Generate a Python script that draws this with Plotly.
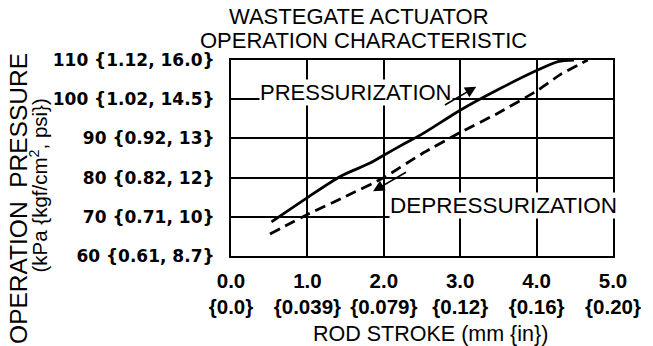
import plotly.graph_objects as go

# ---- data ----
press_x = [0.53, 1.0, 1.43, 1.82, 2.0, 2.29, 2.5, 3.0, 3.51, 4.0, 4.28, 4.49]
press_y = [68.7, 74.9, 80.3, 83.7, 85.7, 88.9, 91.1, 97.2, 102.6, 107.3, 109.6, 110.0]
depress_x = [0.51, 1.0, 1.47, 2.0, 2.5, 3.0, 3.51, 4.0, 4.32, 4.67]
depress_y = [65.6, 70.6, 74.9, 80.0, 86.1, 91.5, 96.6, 102.1, 106.4, 110.0]

x_tickvals = [0, 1, 2, 3, 4, 5]
x_ticktext = ["0.0<br>{0.0}", "1.0<br>{0.039}", "2.0<br>{0.079}",
              "3.0<br>{0.12}", "4.0<br>{0.16}", "5.0<br>{0.20}"]
y_tickvals = [60, 70, 80, 90, 100, 110]
y_ticktext = ["60 {0.61, 8.7}", "70 {0.71, 10}", "80 {0.82, 12}",
              "90 {0.92, 13}", "100 {1.02, 14.5}", "110 {1.12, 16.0}"]

W, H = 653, 346
ML, MR, MT, MB = 231, 33, 60, 90
PW, PH = W - ML - MR, H - MT - MB


def px(xpix):
    return (xpix - ML) / PW


def py(ypix):
    return 1 - (ypix - MT) / PH


REG = "Liberation Sans, Arial, sans-serif"

fig = go.Figure()
fig.add_trace(go.Scatter(x=press_x, y=press_y, mode="lines",
                         line=dict(color="black", width=2.8, shape="spline", smoothing=0.8),
                         showlegend=False, hoverinfo="skip"))
fig.add_trace(go.Scatter(x=depress_x, y=depress_y, mode="lines",
                         line=dict(color="black", width=2.8, dash="11px,6px", shape="spline", smoothing=0.5),
                         showlegend=False, hoverinfo="skip"))

annotations = [
    # title
    dict(text="WASTEGATE ACTUATOR", x=px(361.5), y=py(16.5), xref="paper", yref="paper",
         showarrow=False, xanchor="center", yanchor="middle",
         font=dict(family=REG, size=22, color="black")),
    dict(text="OPERATION CHARACTERISTIC", x=px(366), y=py(40), xref="paper", yref="paper",
         showarrow=False, xanchor="center", yanchor="middle",
         font=dict(family=REG, size=22, color="black")),
    # y axis title
    dict(text="OPERATION  PRESSURE", x=px(14), y=py(198), xref="paper", yref="paper",
         showarrow=False, xanchor="center", yanchor="middle", textangle=-90,
         font=dict(family=REG, size=24.5, color="black")),
    dict(text="(kPa {kgf/cm<sup>2</sup>, psi})", x=px(35), y=py(186), xref="paper", yref="paper",
         showarrow=False, xanchor="center", yanchor="middle", textangle=-90,
         font=dict(family=REG, size=20.5, color="black")),
    # x axis title
    dict(text="ROD STROKE (mm {in})", x=px(434), y=py(333.5), xref="paper", yref="paper",
         showarrow=False, xanchor="center", yanchor="middle",
         font=dict(family=REG, size=21.5, color="black")),
    # curve labels
    dict(text="PRESSURIZATION", x=0.37, y=101.6, xref="x", yref="y",
         showarrow=False, xanchor="left", yanchor="middle", bgcolor="white", borderpad=0,
         font=dict(family=REG, size=22, color="black")),
    dict(text="DEPRESSURIZATION", x=2.07, y=72.85, xref="x", yref="y",
         showarrow=False, xanchor="left", yanchor="middle", bgcolor="white", borderpad=0,
         font=dict(family=REG, size=22.5, color="black")),
    # arrows
    dict(text="", x=3.21, y=103.2, ax=2.78, ay=98.3, xref="x", yref="y", axref="x", ayref="y",
         showarrow=True, arrowhead=2, arrowsize=1.4, arrowwidth=1.6, arrowcolor="black"),
    dict(text="", x=1.86, y=76.5, ax=2.31, ay=81.6, xref="x", yref="y", axref="x", ayref="y",
         showarrow=True, arrowhead=2, arrowsize=1.4, arrowwidth=1.6, arrowcolor="black"),
]

fig.update_layout(
    width=W, height=H,
    margin=dict(l=ML, r=MR, t=MT, b=MB, pad=0),
    paper_bgcolor="white", plot_bgcolor="white",
    annotations=annotations,
    showlegend=False,
)
fig.update_xaxes(range=[0, 5], tickvals=x_tickvals, ticktext=x_ticktext,
                 showgrid=True, gridcolor="black", gridwidth=1.5,
                 showline=True, linecolor="black", linewidth=2, mirror=True,
                 ticks="", ticklabelstandoff=5, zeroline=False,
                 tickfont=dict(family=REG, size=20.5, color="black", weight="bold"))
fig.update_yaxes(range=[60, 110], tickvals=y_tickvals, ticktext=y_ticktext,
                 showgrid=True, gridcolor="black", gridwidth=1.5,
                 showline=True, linecolor="black", linewidth=2, mirror=True,
                 ticks="", ticklabelstandoff=11, zeroline=False,
                 tickfont=dict(family="DejaVu Sans", size=17, color="black", weight="bold"))

fig.write_html("out.html")
